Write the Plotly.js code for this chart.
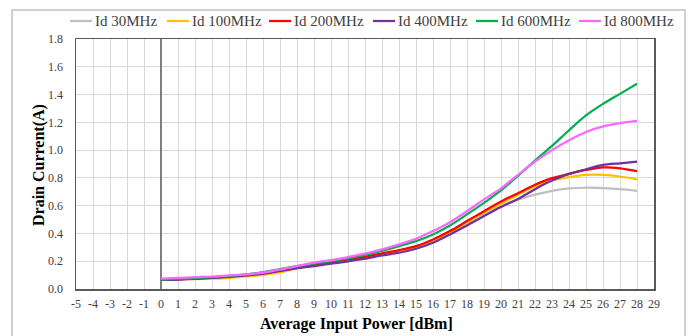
<!DOCTYPE html>
<html>
<head>
<meta charset="utf-8">
<script src="https://cdn.plot.ly/plotly-3.0.1.min.js"></script>
<style>html,body{margin:0;padding:0;background:#fff;}#chart{width:696px;height:336px;}</style>
</head>
<body>
<div id="chart"></div>
<script>
const power = [0,1,2,3,4,5,6,7,8,9,10,11,12,13,14,15,16,17,18,19,20,21,22,23,24,25,26,27,28];
const id30MHz  = [0.065,0.069,0.074,0.080,0.088,0.098,0.110,0.130,0.150,0.170,0.188,0.206,0.225,0.249,0.272,0.300,0.345,0.405,0.473,0.545,0.600,0.643,0.679,0.707,0.724,0.729,0.726,0.719,0.707];
const id100MHz = [0.072,0.072,0.071,0.074,0.080,0.090,0.102,0.120,0.148,0.172,0.190,0.208,0.228,0.250,0.275,0.305,0.350,0.410,0.480,0.550,0.615,0.679,0.738,0.781,0.805,0.821,0.821,0.810,0.790];
const id200MHz = [0.065,0.070,0.075,0.082,0.090,0.100,0.112,0.130,0.152,0.177,0.194,0.213,0.232,0.256,0.280,0.309,0.357,0.417,0.489,0.560,0.630,0.690,0.750,0.798,0.829,0.857,0.876,0.869,0.848];
const id400MHz = [0.065,0.068,0.073,0.080,0.088,0.098,0.110,0.132,0.150,0.165,0.182,0.199,0.218,0.242,0.261,0.290,0.333,0.393,0.457,0.525,0.590,0.648,0.719,0.781,0.829,0.862,0.893,0.905,0.917];
const id600MHz = [0.068,0.073,0.078,0.085,0.095,0.105,0.122,0.144,0.165,0.183,0.200,0.220,0.245,0.275,0.309,0.345,0.393,0.457,0.537,0.620,0.710,0.815,0.925,1.030,1.143,1.250,1.333,1.405,1.478];
const id800MHz = [0.075,0.080,0.085,0.090,0.098,0.105,0.118,0.140,0.165,0.190,0.208,0.230,0.254,0.285,0.321,0.362,0.417,0.481,0.560,0.645,0.725,0.822,0.917,1.000,1.071,1.131,1.171,1.195,1.210];
const seriesNames = ['Id 30MHz','Id 100MHz','Id 200MHz','Id 400MHz','Id 600MHz','Id 800MHz'];
const seriesColors = ['#bfbfbf','#ffc000','#ff0000','#7030a0','#00b050','#ff66ff'];
const seriesData = [id30MHz,id100MHz,id200MHz,id400MHz,id600MHz,id800MHz];
const xTicks = [-5,-4,-3,-2,-1,0,1,2,3,4,5,6,7,8,9,10,11,12,13,14,15,16,17,18,19,20,21,22,23,24,25,26,27,28,29];

const traces = seriesData.map((d,i)=>({
  x: power, y: d, name: seriesNames[i], type:'scatter', mode:'lines',
  line:{color:seriesColors[i], width:2.25, shape:'spline', smoothing:0.8}
}));

// layout geometry (pixels) for converting to paper coordinates
const M = {l:76, r:42, t:39, b:47}, W = 696, H = 336;
const pw = W - M.l - M.r, ph = H - M.t - M.b;
const px = p => (p - M.l) / pw;
const py = p => (H - M.b - p) / ph;

// manual legend (Excel style: short line sample, text right after)
const legendStarts = [70,167,269,373,476,579];
const legendY = 21, sampleLen = 22;
const serif = 'Liberation Serif, Times New Roman, serif';
const shapes = [{type:'rect', xref:'paper', yref:'paper', x0:px(12), x1:px(685), y0:py(345), y1:py(10),
    line:{color:'#d0d0d0', width:2}, fillcolor:'rgba(0,0,0,0)', layer:'below'}];
const annotations = [];
seriesNames.forEach((n,i)=>{
  shapes.push({type:'line', xref:'paper', yref:'paper', x0:px(legendStarts[i]), x1:px(legendStarts[i]+sampleLen),
    y0:py(legendY), y1:py(legendY), line:{color:seriesColors[i], width:2.25}});
  annotations.push({xref:'paper', yref:'paper', x:px(legendStarts[i]+sampleLen+1), y:py(legendY),
    xanchor:'left', yanchor:'middle', showarrow:false, text:n,
    font:{family:serif, size:15, color:'#404040'}});
});
annotations.push({xref:'paper', yref:'paper', x:px(356), y:py(324), xanchor:'center', yanchor:'middle',
  showarrow:false, text:'<b>Average Input Power [dBm]</b>', font:{family:serif, size:16, color:'#000'}});
annotations.push({xref:'paper', yref:'paper', x:px(39), y:py(165), xanchor:'center', yanchor:'middle',
  showarrow:false, textangle:-90, text:'<b>Drain Current(A)</b>', font:{family:serif, size:16, color:'#000'}});

const layout = {
  width:W, height:H,
  margin:M,
  paper_bgcolor:'#fff', plot_bgcolor:'#fff',
  font:{family:serif, size:12, color:'#404040'},
  showlegend:false,
  xaxis:{range:[-5,29], tickvals:xTicks, ticktext:xTicks.map(String), showgrid:true, gridcolor:'#d9d9d9', gridwidth:1,
    zeroline:true, zerolinecolor:'#7f7f7f', zerolinewidth:1.5,
    showline:true, mirror:true, linecolor:'#595959', linewidth:1.5, ticks:'', ticklabelstandoff:3,
    tickfont:{family:serif, size:12, color:'#404040'}},
  yaxis:{range:[0,1.8], dtick:0.2, tick0:0, tickformat:'.1f', showgrid:true, gridcolor:'#d9d9d9', gridwidth:1,
    zeroline:false, showline:true, mirror:true, linecolor:'#595959', linewidth:1.5, ticks:'', ticklabelstandoff:9,
    tickfont:{family:serif, size:12, color:'#404040'}},
  shapes:shapes,
  annotations:annotations
};
Plotly.newPlot('chart', traces, layout, {staticPlot:true, displayModeBar:false});
</script>
</body>
</html>
